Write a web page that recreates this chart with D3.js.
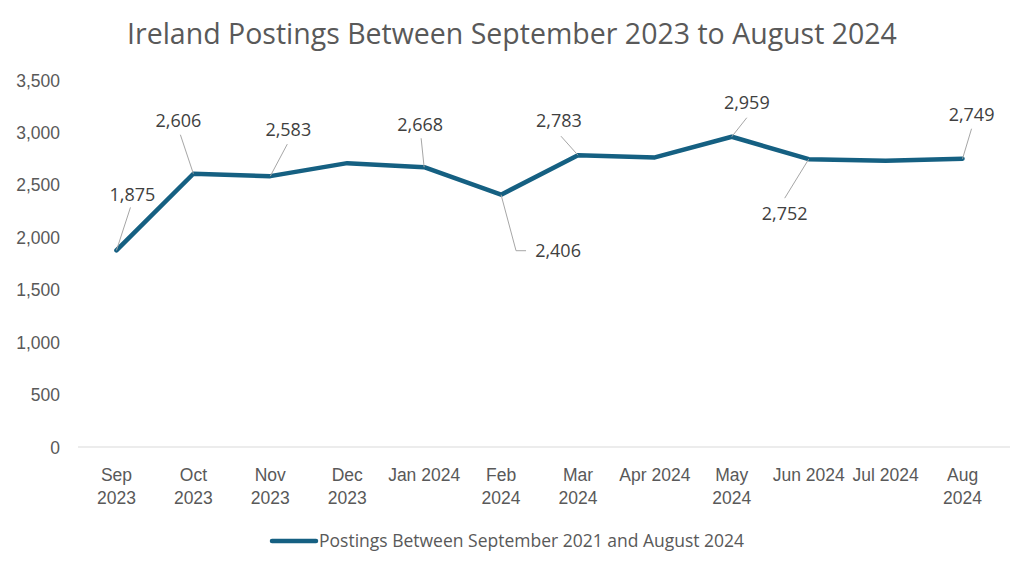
<!DOCTYPE html>
<html>
<head>
<meta charset="utf-8">
<script src="https://cdn.jsdelivr.net/npm/d3@7"></script>
<style>
  body { margin: 0; background: #fff; }
  svg { display: block; font-family: "Open Sans", "Liberation Sans", sans-serif; }
  .tick text { fill: #595959; font-size: 17.5px; }
  .dataLabel { fill: #404040; font-size: 18px; }
  .leader { stroke: #a6a6a6; stroke-width: 1; fill: none; }
</style>
</head>
<body>
<div id="chart"></div>
<script>
// chart data
const months = ["Sep 2023", "Oct 2023", "Nov 2023", "Dec 2023", "Jan 2024", "Feb 2024",
                "Mar 2024", "Apr 2024", "May 2024", "Jun 2024", "Jul 2024", "Aug 2024"];
const postings = [1875, 2606, 2583, 2707, 2668, 2406, 2783, 2762, 2959, 2745, 2731, 2749];
// which points carry a data label, and the text shown
const labelledMonths = ["Sep 2023", "Oct 2023", "Nov 2023", "Jan 2024", "Feb 2024",
                        "Mar 2024", "May 2024", "Jun 2024", "Aug 2024"];
const labelTexts = ["1,875", "2,606", "2,583", "2,668", "2,406", "2,783", "2,959", "2,752", "2,749"];
// tick labels as they wrap on the axis
const tickLabels = [["Sep", "2023"], ["Oct", "2023"], ["Nov", "2023"], ["Dec", "2023"], ["Jan 2024"],
                    ["Feb", "2024"], ["Mar", "2024"], ["Apr 2024"], ["May", "2024"],
                    ["Jun 2024"], ["Jul 2024"], ["Aug", "2024"]];
const yTicks = [0, 500, 1000, 1500, 2000, 2500, 3000, 3500];
const title = "Ireland Postings Between September 2023 to August 2024";
const seriesName = "Postings Between September 2021 and August 2024";

// label placement (pixels, relative to the point): leader end and text centre
const labelLayout = {
  "Sep 2023": {lx: 14, ly: -43, tx: 16, ty: -56},
  "Oct 2023": {lx: -13, ly: -39, tx: -15, ty: -53},
  "Nov 2023": {lx: 17, ly: -32, tx: 18, ty: -46},
  "Jan 2024": {lx: -3, ly: -29, tx: -4, ty: -43},
  "Feb 2024": {lx: 15, ly: 56, tx: 57, ty: 56, elbow: 25},
  "Mar 2024": {lx: -17, ly: -19, tx: -19, ty: -34},
  "May 2024": {lx: 15, ly: -19, tx: 15, ty: -34},
  "Jun 2024": {lx: -24, ly: 39, tx: -24, ty: 55},
  "Aug 2024": {lx: 9, ly: -30, tx: 9, ty: -44}
};

const width = 1024, height = 570;
const margin = {top: 80, right: 14, bottom: 123, left: 78};

const svg = d3.select("#chart").append("svg")
  .attr("width", width)
  .attr("height", height);

const x = d3.scaleBand()
  .domain(months)
  .range([margin.left, 1001]);

const y = d3.scaleLinear()
  .domain([0, 3500])
  .range([height - margin.bottom, margin.top]);

// title
svg.append("text")
  .attr("x", 512)
  .attr("y", 44)
  .attr("text-anchor", "middle")
  .attr("fill", "#595959")
  .style("font-size", "28.5px")
  .text(title);

// y axis (labels only)
const yAxis = svg.append("g")
  .attr("transform", `translate(${margin.left - 18},0)`)
  .call(d3.axisLeft(y).tickValues(yTicks).tickFormat(d3.format(",")).tickSize(0).tickPadding(0));
yAxis.select(".domain").remove();
yAxis.selectAll("text").attr("dy", "0.35em");

// baseline
svg.append("line")
  .attr("x1", margin.left)
  .attr("x2", width - margin.right)
  .attr("y1", y(0))
  .attr("y2", y(0))
  .attr("stroke", "#d9d9d9")
  .attr("stroke-width", 1);

// x axis
const xAxis = svg.append("g")
  .attr("transform", `translate(0,${y(0)})`)
  .call(d3.axisBottom(x).tickSize(0).tickPadding(0).tickFormat(""));
xAxis.select(".domain").remove();
xAxis.selectAll(".tick").each(function(d, i) {
  const t = d3.select(this).append("text")
    .attr("text-anchor", "middle")
    .attr("y", 34);
  tickLabels[i].forEach((line, j) => {
    t.append("tspan").attr("x", 0).attr("dy", j === 0 ? 0 : 23).text(line);
  });
});

const cx = d => x(d) + x.bandwidth() / 2;
const points = months.map((m, i) => ({month: m, value: postings[i]}));

// line
svg.append("path")
  .datum(points)
  .attr("fill", "none")
  .attr("stroke", "#156082")
  .attr("stroke-width", 4.5)
  .attr("stroke-linejoin", "round")
  .attr("stroke-linecap", "round")
  .attr("d", d3.line().x(d => cx(d.month)).y(d => y(d.value)));

// data labels with leader lines
const labels = labelledMonths.map((m, i) => ({
  month: m,
  value: postings[months.indexOf(m)],
  text: labelTexts[i]
}));

labels.forEach(d => {
  const p = labelLayout[d.month];
  const px = cx(d.month), py = y(d.value);
  const pts = [[px, py], [px + p.lx, py + p.ly]];
  if (p.elbow) pts.push([px + p.lx + p.elbow - 15, py + p.ly]);
  svg.append("path")
    .attr("class", "leader")
    .attr("d", d3.line()(pts));
  svg.append("text")
    .attr("class", "dataLabel")
    .attr("x", px + p.tx)
    .attr("y", py + p.ty)
    .attr("dy", "0.35em")
    .attr("text-anchor", "middle")
    .text(d.text);
});

// legend
const legend = svg.append("g").attr("transform", "translate(272,541)");
legend.append("line")
  .attr("x1", 0).attr("x2", 44)
  .attr("stroke", "#156082")
  .attr("stroke-width", 4.5)
  .attr("stroke-linecap", "round");
legend.append("text")
  .attr("x", 47)
  .attr("dy", "0.35em")
  .attr("fill", "#595959")
  .style("font-size", "17.5px")
  .text(seriesName);
</script>
</body>
</html>
